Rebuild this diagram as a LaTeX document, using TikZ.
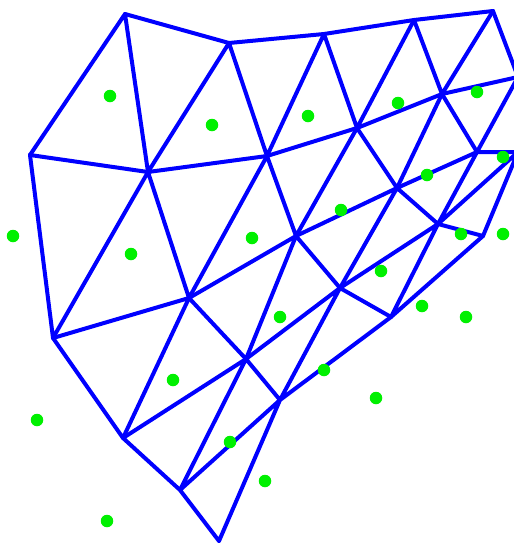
\documentclass[tikz,border=0pt]{standalone}
\definecolor{meshblue}{RGB}{0,0,255}
\definecolor{ptgreen}{RGB}{0,240,0}
\tikzset{
  edge/.style={draw=meshblue,line width=4pt,line cap=round,line join=round},
  pt/.style={circle,fill=ptgreen,inner sep=0pt,minimum size=12.5pt}
}
\begin{document}
\begin{tikzpicture}[x=1pt,y=-1pt]
\useasboundingbox (0,0) rectangle (514,544);
\clip (0,0) rectangle (514,544);
% vertices
\coordinate (A) at (125,14);
\coordinate (B) at (229,43);
\coordinate (C) at (324,34);
\coordinate (D) at (414,20);
\coordinate (E) at (493,11);
\coordinate (F) at (518,77);
\coordinate (G) at (442,94);
\coordinate (H) at (357,128);
\coordinate (I) at (267,156);
\coordinate (J) at (148,172);
\coordinate (K) at (30,155);
\coordinate (L) at (477,152);
\coordinate (Z) at (518,152);
\coordinate (M) at (397,188);
\coordinate (N) at (438,224);
\coordinate (O) at (483,236);
\coordinate (P) at (296,236);
\coordinate (Q) at (189,298);
\coordinate (R) at (53,338);
\coordinate (S) at (340,288);
\coordinate (T) at (391,317);
\coordinate (U) at (246,359);
\coordinate (V) at (280,400);
\coordinate (W) at (123,438);
\coordinate (X) at (180,490);
\coordinate (Y) at (219,541);
% edges
\draw[edge] (A)--(B) (B)--(C) (C)--(D) (D)--(E) (E)--(F);
\draw[edge] (A)--(K) (A)--(J) (B)--(J) (B)--(I) (C)--(I) (C)--(H) (D)--(H) (D)--(G) (E)--(G);
\draw[edge] (K)--(J) (J)--(I) (I)--(H) (H)--(G) (G)--(F);
\draw[edge] (G)--(L) (L)--(F) (L)--(Z) (G)--(M) (H)--(M) (H)--(P) (I)--(P) (I)--(Q) (J)--(Q) (J)--(R) (K)--(R);
\draw[edge] (P)--(M) (M)--(L) (L)--(N) (Z)--(N) (Z)--(O) (M)--(N) (N)--(O) (M)--(S);
\draw[edge] (R)--(Q) (Q)--(P) (R)--(W) (Q)--(W) (Q)--(U) (P)--(U) (P)--(S);
\draw[edge] (N)--(S) (N)--(T) (O)--(T) (S)--(T);
\draw[edge] (W)--(U) (U)--(S) (U)--(V) (S)--(V) (T)--(V) (U)--(X) (W)--(X) (X)--(V) (X)--(Y) (Y)--(V);
% points
\node[pt] (d1) at (110,96) {};
\node[pt] (d2) at (212,125) {};
\node[pt] (d3) at (308,116) {};
\node[pt] (d4) at (398,103) {};
\node[pt] (d5) at (477,92) {};
\node[pt] (d6) at (13,236) {};
\node[pt] (d7) at (131,254) {};
\node[pt] (d8) at (252,238) {};
\node[pt] (d9) at (341,210) {};
\node[pt] (d10) at (427,175) {};
\node[pt] (d11) at (503,157) {};
\node[pt] (d12) at (461,234) {};
\node[pt] (d13) at (503,234) {};
\node[pt] (d14) at (381,271) {};
\node[pt] (d15) at (280,317) {};
\node[pt] (d16) at (422,306) {};
\node[pt] (d17) at (466,317) {};
\node[pt] (d18) at (173,380) {};
\node[pt] (d19) at (324,370) {};
\node[pt] (d20) at (376,398) {};
\node[pt] (d21) at (37,420) {};
\node[pt] (d22) at (230,442) {};
\node[pt] (d23) at (265,481) {};
\node[pt] (d24) at (107,521) {};
\end{tikzpicture}
\end{document}
